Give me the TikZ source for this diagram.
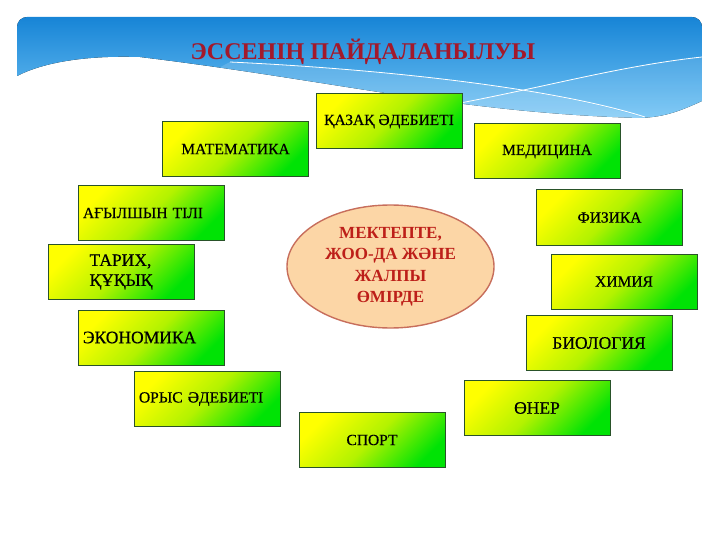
\documentclass[tikz,border=0pt]{standalone}
\usepackage{fontspec}
\setmainfont{Liberation Serif}
\newfontfamily\fachfont[FakeBold=0.5]{Liberation Serif}
\usepackage{tikz}
\usetikzlibrary{shapes.geometric,backgrounds,calc}
\usepackage{color}
\definecolor{gelb}{rgb}{1.0,1.0,0.0}
\definecolor{gelbgruen}{rgb}{0.70,0.95,0.0}
\definecolor{gruen}{rgb}{0.0,0.89,0.02}
\definecolor{gruenRand}{rgb}{0.16,0.32,0.16}
\definecolor{himmel}{rgb}{0.09,0.52,0.84}
\definecolor{himmelHell}{rgb}{0.45,0.77,0.96}
\definecolor{pfirsich}{rgb}{0.99,0.84,0.65}
\definecolor{pfirsichRand}{rgb}{0.78,0.43,0.36}
\definecolor{titelRot}{rgb}{0.64,0.10,0.17}
\definecolor{kernRot}{rgb}{0.74,0.12,0.10}
\tikzstyle{fach} = [rectangle,draw=gruenRand,line width=1pt,top color=gelb,bottom color=gruen,middle color=gelbgruen,shading angle=45,minimum width=146pt,minimum height=55pt,inner sep=2pt,font=\fontsize{15.5}{18}\fachfont]
\tikzstyle{fach'} = [fach,text width=136pt,inner xsep=5pt,align=left]
\tikzstyle{gross} = [font=\fontsize{17.5}{20}\fachfont]
\tikzstyle{kern} = [ellipse,draw=pfirsichRand,line width=1.4pt,fill=pfirsich,minimum width=207pt,minimum height=123pt,inner sep=0pt,align=center,text=kernRot,font=\fontsize{17}{21.5}\selectfont\bfseries]
\tikzstyle{welle} = [white,line width=0.8pt]

\begin{document}
\begin{tikzpicture}[x=1pt,y=-1pt]
\useasboundingbox (0,0) rectangle (720,540);

\begin{scope}
\clip (17,76) [rounded corners=10pt] -- (17,17) -- (702,17) -- (702,40) [sharp corners] -- (702,101)
	.. controls (680,111) and (665,117) .. (640,118)
	.. controls (460,113) and (330,80) .. (140,57)
	.. controls (80,55) and (40,64) .. (17,76) -- cycle;
\fill[top color=himmel,bottom color=himmelHell] (17,17) rectangle (702,118);
\fill[white,opacity=0.15] (230,62) .. controls (400,70) and (560,90) .. (650,120) -- (650,130) -- (100,130) -- cycle;
\fill[white,opacity=0.10] (455,104) .. controls (550,86) and (620,66) .. (705,57) -- (705,130) -- cycle;
\end{scope}
\draw[welle] (230,62) .. controls (400,70) and (560,90) .. (645,117);
\draw[welle] (455,104) .. controls (550,86) and (620,66) .. (702,57);

\node[anchor=base,text=titelRot,font=\fontsize{24}{28}\selectfont\bfseries] (titel) at (363,60) {
	ЭССЕНІҢ ПАЙДАЛАНЫЛУЫ
};

\node[kern] (mitte) at (390.5,266.5) {
	МЕКТЕПТЕ,\\ЖОО-ДА ЖӘНЕ\\ЖАЛПЫ\\ӨМІРДЕ
};

\node[fach] (mathe) at (235.5,149) {
	МАТЕМАТИКА
};
\node[fach] (kazlit) at (389,121.5) {
	ҚАЗАҚ ӘДЕБИЕТІ
};
\node[fach] (medizin) at (547,151.5) {
	МЕДИЦИНА
};

\node[fach'] (englisch) at (151,213) {
	АҒЫЛШЫН ТІЛІ
};
\node[fach,gross,align=left] (geschichte) at (121,272) {
	ТАРИХ,\\ҚҰҚЫҚ
};
\node[fach',gross] (oekonomie) at (151,337.5) {
	ЭКОНОМИКА
};
\node[fach'] (ruslit) at (207,399) {
	ОРЫС ӘДЕБИЕТІ
};

\node[fach] (physik) at (609.5,217.5) {
	ФИЗИКА
};
\node[fach] (chemie) at (624,281.5) {
	ХИМИЯ
};
\node[fach,gross] (biologie) at (599,343) {
	БИОЛОГИЯ
};
\node[fach,gross] (kunst) at (537,408) {
	ӨНЕР
};
\node[fach] (sport) at (372,440) {
	СПОРТ
};
\end{tikzpicture}
\end{document}
